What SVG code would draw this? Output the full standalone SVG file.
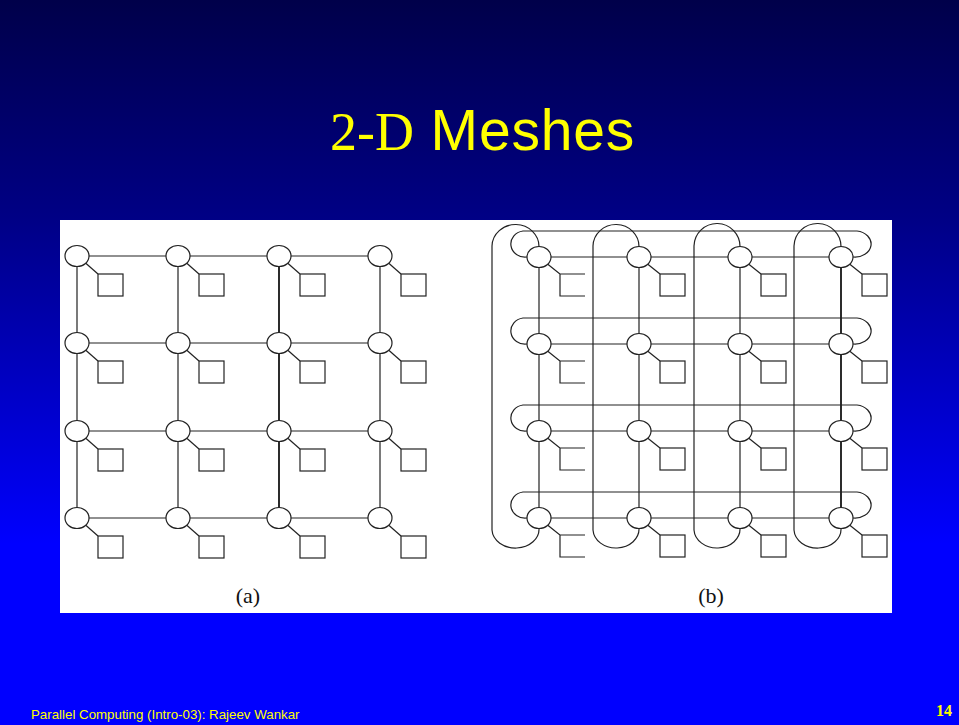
<svg xmlns="http://www.w3.org/2000/svg" width="959" height="725" viewBox="0 0 959 725">
<defs>
<linearGradient id="bg" x1="0" y1="0" x2="0" y2="1">
<stop offset="0" stop-color="#00004a"/>
<stop offset="0.3" stop-color="#000085"/>
<stop offset="0.75" stop-color="#0000ff"/>
<stop offset="1" stop-color="#0000ff"/>
</linearGradient>
<style>
.ln{fill:none;stroke:#222;stroke-width:1.2}
.bold{stroke-width:1.9}
.nd{fill:#fff;stroke:#222;stroke-width:1.2}
.lab{font-family:"Liberation Serif",serif;font-size:22px;fill:#111}
</style>
</defs>
<rect width="959" height="725" fill="url(#bg)"/>
<text x="330" y="150" fill="#ffff00" font-size="54"><tspan font-family="Liberation Serif, serif">2-D</tspan><tspan font-family="Liberation Sans, sans-serif" font-size="57" letter-spacing="0.8"> Meshes</tspan></text>
<rect x="60" y="220" width="832" height="393" fill="#fff"/>

<!-- Panel (a) links -->
<g id="links-a" class="ln">
<path d="M89 256H166M190 256H267M291 256H368M89 343H166M190 343H267M291 343H368M89 431H166M190 431H267M291 431H368M89 518H166M190 518H267M291 518H368"/>
<path d="M77 266V333M77 353V421M77 441V508M178 266V333M178 353V421M178 441V508M380 266V333M380 353V421M380 441V508"/>
<path class="bold" d="M279 266V333M279 353V421M279 441V508"/>
</g>

<!-- Panel (b) links -->
<g id="links-b" class="ln">
<path d="M551 257H627M651 257H728M752 257H829M551 344H627M651 344H728M752 344H829M551 431H627M651 431H728M752 431H829M551 518H627M651 518H728M752 518H829"/>
<path d="M539 267V334M539 354V421M539 441V508M639 267V334M639 354V421M639 441V508M740 267V334M740 354V421M740 441V508"/>
<path class="bold" d="M841 267V334M841 354V421M841 441V508"/>
<!-- row wraparounds -->
<path d="M527 257A14 13 0 0 1 523 231H857A16 13 0 0 1 853 257"/>
<path d="M527 344A14 13 0 0 1 523 318H857A16 13 0 0 1 853 344"/>
<path d="M527 431A14 13 0 0 1 523 405H857A16 13 0 0 1 853 431"/>
<path d="M527 518A14 13 0 0 1 523 492H857A16 13 0 0 1 853 518"/>
<!-- column wraparounds -->
<path d="M539 247A23.5 22 0 0 0 492 246V530A23.5 19 0 0 0 539 528"/>
<path d="M639 247A23 22 0 0 0 593 246V530A23 19 0 0 0 639 528"/>
<path d="M740 247A23 23 0 0 0 694 246V530A23 19 0 0 0 740 528"/>
<path d="M841 247A23.5 23 0 0 0 794 246V530A23.5 19 0 0 0 841 528"/>
</g>

<!-- Panel (a) nodes -->
<g id="a-r1c1"><path class="ln" d="M85.5 263L98 274"/><rect class="nd" x="98" y="274" width="25" height="22"/><ellipse class="nd" cx="77" cy="256" rx="12" ry="10.5"/></g>
<g id="a-r1c2"><path class="ln" d="M186.5 263L199 274"/><rect class="nd" x="199" y="274" width="25" height="22"/><ellipse class="nd" cx="178" cy="256" rx="12" ry="10.5"/></g>
<g id="a-r1c3"><path class="ln" d="M287.5 263L300 274"/><rect class="nd" x="300" y="274" width="25" height="22"/><ellipse class="nd" cx="279" cy="256" rx="12" ry="10.5"/></g>
<g id="a-r1c4"><path class="ln" d="M388.5 263L401 274"/><rect class="nd" x="401" y="274" width="25" height="22"/><ellipse class="nd" cx="380" cy="256" rx="12" ry="10.5"/></g>
<g id="a-r2c1"><path class="ln" d="M85.5 350L98 361"/><rect class="nd" x="98" y="361" width="25" height="22"/><ellipse class="nd" cx="77" cy="343" rx="12" ry="10.5"/></g>
<g id="a-r2c2"><path class="ln" d="M186.5 350L199 361"/><rect class="nd" x="199" y="361" width="25" height="22"/><ellipse class="nd" cx="178" cy="343" rx="12" ry="10.5"/></g>
<g id="a-r2c3"><path class="ln" d="M287.5 350L300 361"/><rect class="nd" x="300" y="361" width="25" height="22"/><ellipse class="nd" cx="279" cy="343" rx="12" ry="10.5"/></g>
<g id="a-r2c4"><path class="ln" d="M388.5 350L401 361"/><rect class="nd" x="401" y="361" width="25" height="22"/><ellipse class="nd" cx="380" cy="343" rx="12" ry="10.5"/></g>
<g id="a-r3c1"><path class="ln" d="M85.5 438L98 449"/><rect class="nd" x="98" y="449" width="25" height="22"/><ellipse class="nd" cx="77" cy="431" rx="12" ry="10.5"/></g>
<g id="a-r3c2"><path class="ln" d="M186.5 438L199 449"/><rect class="nd" x="199" y="449" width="25" height="22"/><ellipse class="nd" cx="178" cy="431" rx="12" ry="10.5"/></g>
<g id="a-r3c3"><path class="ln" d="M287.5 438L300 449"/><rect class="nd" x="300" y="449" width="25" height="22"/><ellipse class="nd" cx="279" cy="431" rx="12" ry="10.5"/></g>
<g id="a-r3c4"><path class="ln" d="M388.5 438L401 449"/><rect class="nd" x="401" y="449" width="25" height="22"/><ellipse class="nd" cx="380" cy="431" rx="12" ry="10.5"/></g>
<g id="a-r4c1"><path class="ln" d="M85.5 525L98 536"/><rect class="nd" x="98" y="536" width="25" height="22"/><ellipse class="nd" cx="77" cy="518" rx="12" ry="10.5"/></g>
<g id="a-r4c2"><path class="ln" d="M186.5 525L199 536"/><rect class="nd" x="199" y="536" width="25" height="22"/><ellipse class="nd" cx="178" cy="518" rx="12" ry="10.5"/></g>
<g id="a-r4c3"><path class="ln" d="M287.5 525L300 536"/><rect class="nd" x="300" y="536" width="25" height="22"/><ellipse class="nd" cx="279" cy="518" rx="12" ry="10.5"/></g>
<g id="a-r4c4"><path class="ln" d="M388.5 525L401 536"/><rect class="nd" x="401" y="536" width="25" height="22"/><ellipse class="nd" cx="380" cy="518" rx="12" ry="10.5"/></g>

<!-- Panel (b) nodes -->
<g id="b-r1c1"><path class="ln" d="M547.5 264L560 274V296H585M560 274H585"/><ellipse class="nd" cx="539" cy="257" rx="12" ry="10.5"/></g>
<g id="b-r1c2"><path class="ln" d="M647.5 264L660 274"/><rect class="nd" x="660" y="274" width="25" height="22"/><ellipse class="nd" cx="639" cy="257" rx="12" ry="10.5"/></g>
<g id="b-r1c3"><path class="ln" d="M748.5 264L761 274"/><rect class="nd" x="761" y="274" width="25" height="22"/><ellipse class="nd" cx="740" cy="257" rx="12" ry="10.5"/></g>
<g id="b-r1c4"><path class="ln" d="M849.5 264L862 274"/><rect class="nd" x="862" y="274" width="25" height="22"/><ellipse class="nd" cx="841" cy="257" rx="12" ry="10.5"/></g>
<g id="b-r2c1"><path class="ln" d="M547.5 351L560 361V383H585M560 361H585"/><ellipse class="nd" cx="539" cy="344" rx="12" ry="10.5"/></g>
<g id="b-r2c2"><path class="ln" d="M647.5 351L660 361"/><rect class="nd" x="660" y="361" width="25" height="22"/><ellipse class="nd" cx="639" cy="344" rx="12" ry="10.5"/></g>
<g id="b-r2c3"><path class="ln" d="M748.5 351L761 361"/><rect class="nd" x="761" y="361" width="25" height="22"/><ellipse class="nd" cx="740" cy="344" rx="12" ry="10.5"/></g>
<g id="b-r2c4"><path class="ln" d="M849.5 351L862 361"/><rect class="nd" x="862" y="361" width="25" height="22"/><ellipse class="nd" cx="841" cy="344" rx="12" ry="10.5"/></g>
<g id="b-r3c1"><path class="ln" d="M547.5 438L560 448V470H585M560 448H585"/><ellipse class="nd" cx="539" cy="431" rx="12" ry="10.5"/></g>
<g id="b-r3c2"><path class="ln" d="M647.5 438L660 448"/><rect class="nd" x="660" y="448" width="25" height="22"/><ellipse class="nd" cx="639" cy="431" rx="12" ry="10.5"/></g>
<g id="b-r3c3"><path class="ln" d="M748.5 438L761 448"/><rect class="nd" x="761" y="448" width="25" height="22"/><ellipse class="nd" cx="740" cy="431" rx="12" ry="10.5"/></g>
<g id="b-r3c4"><path class="ln" d="M849.5 438L862 448"/><rect class="nd" x="862" y="448" width="25" height="22"/><ellipse class="nd" cx="841" cy="431" rx="12" ry="10.5"/></g>
<g id="b-r4c1"><path class="ln" d="M547.5 525L560 535V557H585M560 535H585"/><ellipse class="nd" cx="539" cy="518" rx="12" ry="10.5"/></g>
<g id="b-r4c2"><path class="ln" d="M647.5 525L660 535"/><rect class="nd" x="660" y="535" width="25" height="22"/><ellipse class="nd" cx="639" cy="518" rx="12" ry="10.5"/></g>
<g id="b-r4c3"><path class="ln" d="M748.5 525L761 535"/><rect class="nd" x="761" y="535" width="25" height="22"/><ellipse class="nd" cx="740" cy="518" rx="12" ry="10.5"/></g>
<g id="b-r4c4"><path class="ln" d="M849.5 525L862 535"/><rect class="nd" x="862" y="535" width="25" height="22"/><ellipse class="nd" cx="841" cy="518" rx="12" ry="10.5"/></g>

<text class="lab" x="248" y="603" text-anchor="middle">(a)</text>
<text class="lab" x="711" y="603" text-anchor="middle">(b)</text>

<text x="31" y="719" fill="#ffff00" font-family="Liberation Sans, sans-serif" font-size="13.3">Parallel Computing (Intro-03): Rajeev Wankar</text>
<text x="952" y="716" fill="#ffff00" font-family="Liberation Serif, serif" font-weight="bold" font-size="16" text-anchor="end">14</text>
</svg>
